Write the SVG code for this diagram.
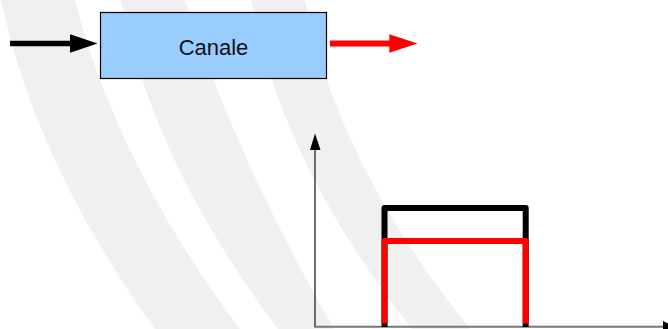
<svg xmlns="http://www.w3.org/2000/svg" width="668" height="329" viewBox="0 0 668 329">
  <style>
    .band { fill: #f0f0f0; stroke: none; }
    .box { fill: #99ccff; stroke: #000000; stroke-width: 1.2; }
    .label { font-family: "Liberation Sans", Arial, sans-serif; font-size: 22px; fill: #111111; text-anchor: middle; }
    .blk { stroke: #000000; fill: none; }
    .red { stroke: #ff0000; fill: none; }
    .head-blk { fill: #000000; }
    .head-red { fill: #ff0000; }
    .sig { stroke-width: 6; stroke-linejoin: round; fill: none; }
  </style>
  <rect x="0" y="0" width="668" height="329" fill="#ffffff"/>
  <g id="watermark">
    <path class="band" d="M1,0 Q36,164.5 155,329 L240,329 Q116.5,164.5 75,0 Z"/>
    <path class="band" d="M121,0 Q153.7,164.5 278,329 L334,329 Q239,164.5 185,0 Z"/>
    <path class="band" d="M251,0 Q281.7,164.5 412,329 L470,329 Q337.7,164.5 305,0 Z"/>
  </g>
  <g id="canale">
    <rect class="box" x="100.5" y="12.5" width="226" height="66"/>
    <text class="label" x="213.5" y="55">Canale</text>
  </g>
  <g id="connectors">
    <g id="input-arrow">
      <line class="blk" x1="10" y1="43.6" x2="72" y2="43.6" stroke-width="5.5"/>
      <polygon class="head-blk" points="70,34.3 97.5,43.6 70,52.8"/>
    </g>
    <g id="output-arrow">
      <line class="red" x1="330" y1="43.6" x2="391" y2="43.6" stroke-width="6"/>
      <polygon class="head-red" points="389.3,34.3 417.5,43.6 389.3,52.8"/>
    </g>
  </g>
  <g id="plot">
    <g id="axes">
      <line x1="315" y1="148" x2="315" y2="326" stroke="#222222" stroke-width="1.3"/>
      <polygon class="head-blk" points="315,133.5 310,150 320.5,150"/>
      <line x1="314" y1="326.8" x2="668" y2="326.8" stroke="#777777" stroke-width="2"/>
      <polygon class="head-blk" points="663,321 675,326.8 663,332.5"/>
    </g>
    <path id="input-spectrum" class="blk sig" d="M384.5,327 V208 H525.7 V327"/>
    <path id="output-spectrum" class="red sig" d="M384.5,323.5 V241 H525.7 V323.5"/>
  </g>
</svg>
